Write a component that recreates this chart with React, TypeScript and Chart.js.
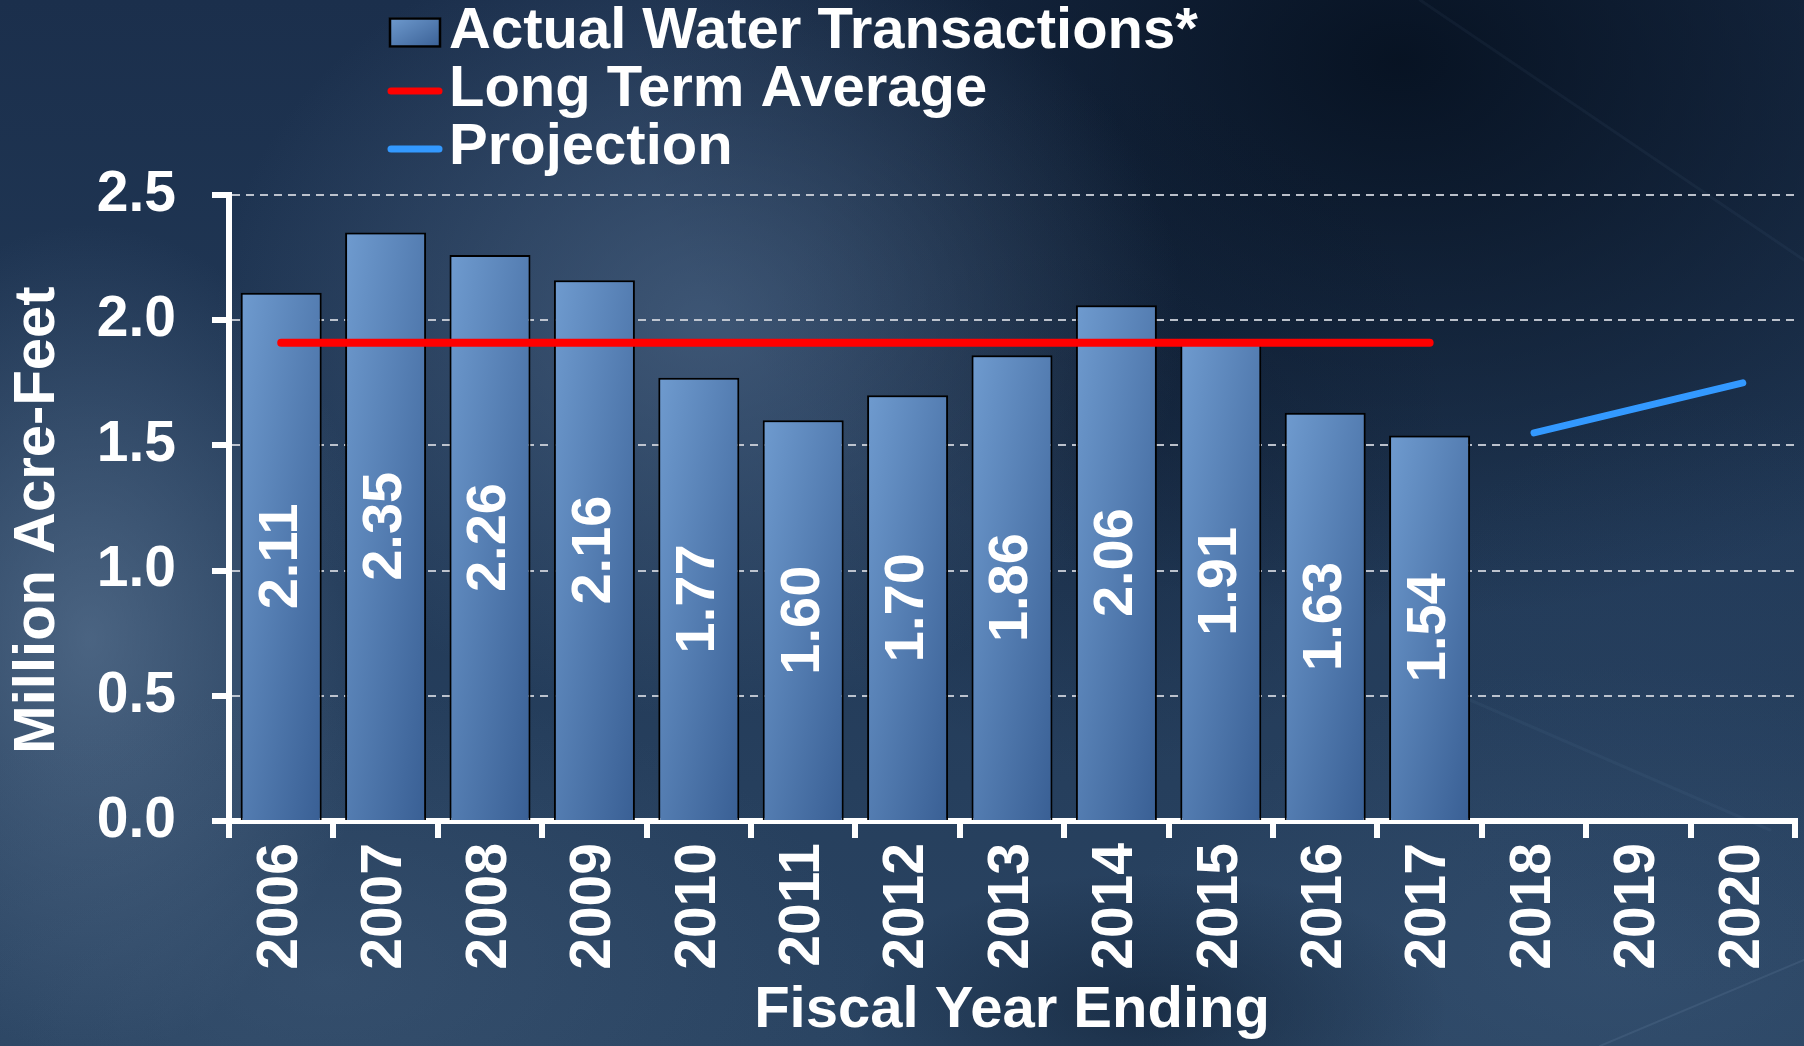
import React, { useEffect, useRef } from "react";
import { Chart, registerables } from "chart.js";

Chart.register(...registerables);

// ---------------- data ----------------
const years = [
  "2006", "2007", "2008", "2009", "2010", "2011", "2012", "2013",
  "2014", "2015", "2016", "2017", "2018", "2019", "2020",
];
const actualTransactions: (number | null)[] = [
  2.11, 2.35, 2.26, 2.16, 1.77, 1.6, 1.7, 1.86, 2.06, 1.91, 1.63, 1.54, null, null, null,
];
const longTermAverage: (number | null)[] = [
  1.91, 1.91, 1.91, 1.91, 1.91, 1.91, 1.91, 1.91, 1.91, 1.91, 1.91, 1.91, null, null, null,
];
const projection: (number | null)[] = [
  null, null, null, null, null, null, null, null, null, null, null, null, 1.55, 1.65, 1.75,
];
const yMin = 0;
const yMax = 2.5;
const yStep = 0.5;

const seriesLabels = ["Actual Water Transactions*", "Long Term Average", "Projection"];
const xTitle = "Fiscal Year Ending";
const yTitle = "Million Acre-Feet";

// ---------------- styles ----------------
const FONT = "'Liberation Sans', Arial, Helvetica, sans-serif";
const BAR_LIGHT = "#6f9bcf";
const BAR_DARK = "#395f94";
const BAR_FALLBACK = "#5580b4";
const RED = "#ff0000";
const BLUE = "#3399ff";

function barGradient(c: CanvasRenderingContext2D, left: number, top: number, w: number, h: number) {
  if (![left, top, w, h].every((n) => Number.isFinite(n)) || w <= 0 || h <= 0) return BAR_FALLBACK;
  // gradient running corner-to-corner in the box's own normalized space
  const gx = 1 / (2 * w);
  const gy = 1 / (2 * h);
  const n = gx * gx + gy * gy;
  const g = c.createLinearGradient(left, top, left + gx / n, top + gy / n);
  g.addColorStop(0, BAR_LIGHT);
  g.addColorStop(1, BAR_DARK);
  return g;
}

const backgroundPlugin = {
  id: "bgPaint",
  beforeDraw(chart: any) {
    const c: CanvasRenderingContext2D = chart.ctx;
    const W = chart.width;
    const H = chart.height;
    c.save();
    const base = c.createLinearGradient(0, 0, 0, H);
    base.addColorStop(0, "#1b2f4c");
    base.addColorStop(0.5, "#223a58");
    base.addColorStop(1, "#2a4462");
    c.fillStyle = base;
    c.fillRect(0, 0, W, H);

    const blob = (x: number, y: number, r: number, rgb: string, a: number, sx = 1, sy = 1) => {
      c.save();
      c.translate(x, y);
      c.scale(sx, sy);
      const g = c.createRadialGradient(0, 0, 0, 0, 0, r);
      g.addColorStop(0, `rgba(${rgb},${a})`);
      g.addColorStop(1, `rgba(${rgb},0)`);
      c.fillStyle = g;
      c.beginPath();
      c.arc(0, 0, r, 0, Math.PI * 2);
      c.fill();
      c.restore();
    };
    // dark upper right
    blob(1400, 60, 700, "4,14,28", 0.85, 1.1, 0.8);
    blob(1100, 420, 350, "8,20,38", 0.35);
    // haze in the middle left
    blob(700, 320, 440, "86,112,144", 0.55, 1.1, 0.9);
    blob(90, 640, 320, "100,126,156", 0.6, 0.9, 1.3);
    blob(330, 980, 420, "72,98,128", 0.35, 1.3, 0.7);
    blob(1620, 960, 420, "66,96,130", 0.35, 1.2, 0.7);
    blob(1150, 1010, 230, "8,22,40", 0.45, 1.3, 0.6);
    blob(1700, 700, 300, "40,66,98", 0.3);

    // faint streaks
    c.lineCap = "round";
    c.strokeStyle = "rgba(140,170,205,0.06)";
    c.lineWidth = 3;
    c.beginPath();
    c.moveTo(1470, 700);
    c.lineTo(1770, 830);
    c.stroke();
    c.strokeStyle = "rgba(170,195,225,0.10)";
    c.lineWidth = 2;
    c.beginPath();
    c.moveTo(1804, 960);
    c.lineTo(1600, 1046);
    c.stroke();
    c.strokeStyle = "rgba(140,170,205,0.06)";
    c.lineWidth = 3;
    c.beginPath();
    c.moveTo(1420, 0);
    c.lineTo(1804, 260);
    c.stroke();
    c.restore();
  },
};

const valueLabelPlugin = {
  id: "barValues",
  afterDatasetsDraw(chart: any) {
    const c: CanvasRenderingContext2D = chart.ctx;
    const meta = chart.getDatasetMeta(0);
    const values = chart.data.datasets[0].data as (number | null)[];
    c.save();
    c.fillStyle = "#ffffff";
    c.font = `bold 56px ${FONT}`;
    c.textAlign = "center";
    c.textBaseline = "middle";
    meta.data.forEach((el: any, i: number) => {
      const v = values[i];
      if (v == null) return;
      const { x, y, base } = el.getProps(["x", "y", "base"], true);
      c.save();
      c.translate(x, (y + base) / 2);
      c.rotate(-Math.PI / 2);
      c.fillText(v.toFixed(2), 0, 0);
      c.restore();
    });
    c.restore();
  },
};

// y-axis title, drawn slightly below the scale's midpoint as in the original
const yTitlePlugin = {
  id: "yAxisTitle",
  afterDraw(chart: any) {
    const c: CanvasRenderingContext2D = chart.ctx;
    const ys = chart.scales.y;
    c.save();
    c.fillStyle = "#ffffff";
    c.font = `bold 58px ${FONT}`;
    c.textAlign = "center";
    c.textBaseline = "middle";
    c.translate(ys.left + 38, (ys.top + ys.bottom) / 2 + 12);
    c.rotate(-Math.PI / 2);
    c.fillText(yTitle, 0, 0);
    c.restore();
  },
};

const legendPlugin = {
  id: "columnLegend",
  afterDraw(chart: any) {
    const c: CanvasRenderingContext2D = chart.ctx;
    const rows = [32, 90, 148];
    const markerLeft = 389;
    const markerW = 52;
    const textLeft = 449;
    c.save();
    chart.data.datasets.forEach((ds: any, i: number) => {
      const cy = rows[i];
      if (ds.type === "bar") {
        const top = cy - 14.5;
        c.fillStyle = barGradient(c, markerLeft, top, markerW, 30);
        c.fillRect(markerLeft, top, markerW, 30);
        c.strokeStyle = "#000";
        c.lineWidth = 2.5;
        c.strokeRect(markerLeft + 1, top + 1, markerW - 2, 28);
      } else {
        c.strokeStyle = ds.borderColor;
        c.lineWidth = 7;
        c.lineCap = "round";
        c.beginPath();
        c.moveTo(markerLeft + 2, cy + 1);
        c.lineTo(markerLeft + markerW - 2, cy + 1);
        c.stroke();
      }
      c.fillStyle = "#ffffff";
      c.font = `bold 58px ${FONT}`;
      c.textAlign = "left";
      c.textBaseline = "middle";
      c.fillText(ds.label, textLeft, cy);
    });
    c.restore();
  },
};

export default function App() {
  const ref = useRef<HTMLCanvasElement | null>(null);

  useEffect(() => {
    if (!ref.current) return;
    const tickFont = { family: FONT, size: 57, weight: "bold" as const };

    const chart = new Chart(ref.current, {
      type: "bar",
      data: {
        labels: years,
        datasets: [
          {
            type: "bar",
            label: seriesLabels[0],
            data: actualTransactions,
            backgroundColor: (ctx: any) => {
              const ch = ctx.chart;
              const xs = ch.scales?.x;
              const ys = ch.scales?.y;
              const v = ctx.raw;
              if (ctx.type !== "data" || !xs || !ys || v == null) return BAR_FALLBACK;
              const slot = (xs.right - xs.left) / years.length;
              const w = slot * 0.776;
              const xc = xs.getPixelForValue(ctx.dataIndex);
              const top = ys.getPixelForValue(v);
              const bottom = ys.getPixelForValue(0);
              return barGradient(ch.ctx, xc - w / 2, top, w, bottom - top);
            },
            borderColor: "#000000",
            borderWidth: 2,
            categoryPercentage: 1,
            barPercentage: 0.776,
            order: 2,
          } as any,
          {
            type: "line",
            label: seriesLabels[1],
            data: longTermAverage,
            borderColor: RED,
            borderWidth: 8,
            borderCapStyle: "round",
            pointRadius: 0,
            pointHoverRadius: 0,
            fill: false,
            order: 1,
          } as any,
          {
            type: "line",
            label: seriesLabels[2],
            data: projection,
            borderColor: BLUE,
            borderWidth: 7,
            borderCapStyle: "round",
            pointRadius: 0,
            pointHoverRadius: 0,
            fill: false,
            order: 0,
          } as any,
        ],
      },
      options: {
        animation: false,
        responsive: false,
        devicePixelRatio: 1,
        events: [],
        layout: { padding: { top: 195, left: 0, right: 9, bottom: 0 } },
        plugins: {
          legend: { display: false },
          tooltip: { enabled: false },
          title: { display: false },
        },
        scales: {
          x: {
            type: "category",
            offset: true,
            z: 1,
            grid: {
              display: true,
              offset: true,
              drawOnChartArea: false,
              drawTicks: true,
              tickLength: 17,
              tickWidth: 6,
              lineWidth: 6,
              color: "#ffffff",
              tickColor: "#ffffff",
            },
            border: { display: true, color: "#ffffff", width: 6 },
            ticks: {
              color: "#ffffff",
              font: tickFont,
              minRotation: 90,
              maxRotation: 90,
              autoSkip: false,
              padding: 5,
            },
            title: {
              display: true,
              text: xTitle,
              color: "#ffffff",
              font: { family: FONT, size: 58, weight: "bold" },
              padding: 0,
            },
            afterFit: (s: any) => {
              s.height = 225;
              s.paddingLeft = 0;
              s.paddingRight = 0;
            },
          } as any,
          y: {
            min: yMin,
            max: yMax,
            ticks: {
              stepSize: yStep,
              color: "#ffffff",
              font: tickFont,
              padding: 36,
              callback: (v: any) => Number(v).toFixed(1),
            },
            grid: {
              color: "rgba(205,210,218,0.9)",
              lineWidth: 2,
              tickColor: "#ffffff",
              tickWidth: 6,
              tickLength: 17,
              tickBorderDash: [],
            },
            border: { display: true, color: "#ffffff", width: 6, dash: [8, 6] },
            title: { display: false },
            afterFit: (s: any) => {
              s.width = 229;
              s.paddingTop = 0;
              s.paddingBottom = 0;
            },
          } as any,
        },
      },
      plugins: [backgroundPlugin, valueLabelPlugin, yTitlePlugin, legendPlugin],
    });

    return () => chart.destroy();
  }, []);

  return (
    <div style={{ position: "absolute", left: 0, top: 0, width: 1804, height: 1046, overflow: "hidden" }}>
      <canvas ref={ref} width={1804} height={1046} style={{ display: "block", width: 1804, height: 1046 }} />
    </div>
  );
}
